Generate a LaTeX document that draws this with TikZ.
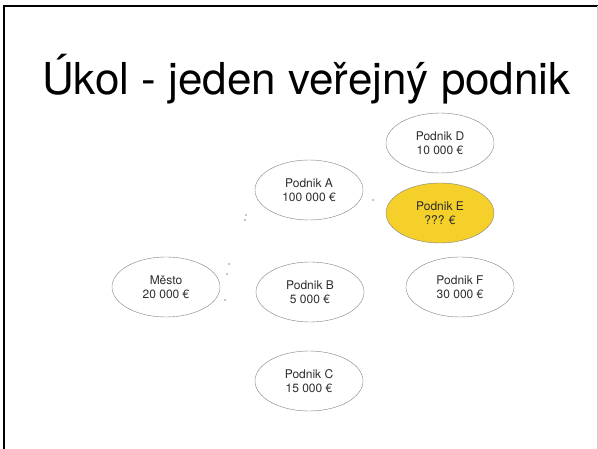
\documentclass[tikz,border=0pt]{standalone}
\usepackage{fontspec}
\setmainfont{TeX Gyre Heros}
\usepackage{tikz}
\usetikzlibrary{shapes.geometric}
\definecolor{Edge}{RGB}{130, 130, 130}
\definecolor{Ink}{RGB}{45, 45, 45}
\definecolor{Gold}{RGB}{245, 208, 42}

\tikzset{
    firm/.style={ellipse, draw=Edge, thin, minimum width=108pt, minimum height=60pt,
        inner sep=0pt, align=center, text=Ink, font=\fontsize{12}{14}\selectfont},
    speck/.style={fill=black, inner sep=0pt, minimum size=1.4pt, circle}
}

\begin{document}
\begin{tikzpicture}[x=1pt, y=-1pt]
    %%Background
    \useasboundingbox (0,0) rectangle (598,449);
    \draw[line width=2.2pt] (4,449) to (4,6) to (598,6);
    \draw[gray!40, line width=0.8pt] (597,6) to (597,449);

    %% Title
    \node[anchor=base west, font=\fontsize{44}{48}\selectfont, text=black, inner sep=0pt]
        (title) at (42,95) {Úkol - jeden veřejný podnik};

    %% Firms
    \node[firm] (D) at (440,143) {Podnik D\\10 000 €};
    \node[firm, fill=Gold] (E) at (440,213) {Podnik E\\??? €};
    \node[firm] (A) at (309,190) {Podnik A\\100 000 €};
    \node[firm] (B) at (310,292) {Podnik B\\5 000 €};
    \node[firm] (F) at (460,287) {Podnik F\\30 000 €};
    \node[firm] (M) at (166,287) {Město\\20 000 €};
    \node[firm] (C) at (309,381) {Podnik C\\15 000 €};

    %% stray marks
    \node[speck] (s1) at (373,200) {};
    \node[speck] (s2) at (246,215) {};
    \node[speck] (s3) at (245,220) {};
    \node[speck] (s4) at (229,264) {};
    \node[speck] (s5) at (227,274) {};
    \node[speck] (s6) at (225,300) {};
\end{tikzpicture}
\end{document}
